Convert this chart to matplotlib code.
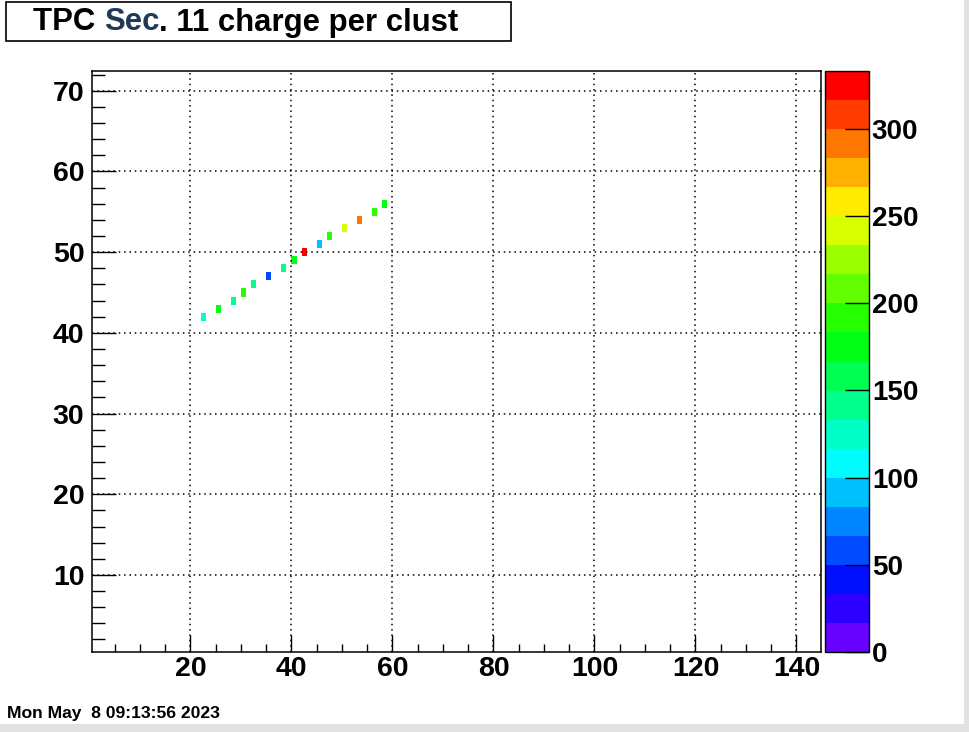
import numpy as np
import matplotlib
matplotlib.use("Agg")
import matplotlib.pyplot as plt
import colorsys
from matplotlib.colors import ListedColormap, BoundaryNorm
from matplotlib.ticker import MultipleLocator
import matplotlib.patches as mpatches

# bins filled in the 2D histogram (pad column, row) and their charge
pad_col = [22, 25, 28, 30, 32, 35, 38, 40, 42, 45, 47, 50, 53, 56, 58]
pad_row = [42, 43, 44, 45, 46, 47, 48, 49, 50, 51, 52, 53, 54, 55, 56]
charge = [125, 178, 145, 190, 145, 58, 145, 178, 330, 92, 190, 240, 295, 190, 180]

n_col = 145
n_row = 72
z_max = 333
n_levels = 20

plt.rcParams['font.family'] = ['Liberation Sans', 'DejaVu Sans']
plt.rcParams['font.weight'] = 'bold'

W, H = 969, 732
fig = plt.figure(figsize=(W / 100, H / 100), dpi=100)
fig.patch.set_facecolor('white')

def box(l, t, r, b):
    return [l / W, 1 - b / H, (r - l) / W, (b - t) / H]

# ROOT-like rainbow palette, 20 contour bands
band_cols = [colorsys.hsv_to_rgb(264 * (1 - k / (n_levels - 1)) / 360, 1, 1) for k in range(n_levels)]
cmap = ListedColormap(band_cols)
levels = np.linspace(0, z_max, n_levels + 1)
norm = BoundaryNorm(levels, cmap.N)

grid = np.full((n_row, n_col), np.nan)
for c, r, q in zip(pad_col, pad_row, charge):
    grid[r - 1, c] = q
grid = np.ma.masked_invalid(grid)

ax = fig.add_axes(box(92, 71, 820.7, 652))
x_edges = np.arange(n_col + 1)
y_edges = np.arange(n_row + 1) + 0.5
mesh = ax.pcolormesh(x_edges, y_edges, grid, cmap=cmap, norm=norm)

ax.set_xlim(0.5, 144.8)
ax.set_ylim(0.45, 72.45)
ax.xaxis.set_minor_locator(MultipleLocator(5))
ax.yaxis.set_minor_locator(MultipleLocator(2))
ax.set_xticks([20, 40, 60, 80, 100, 120, 140])
ax.set_yticks([10, 20, 30, 40, 50, 60, 70])
ax.tick_params(axis='x', which='major', direction='in', length=12, width=1, labelsize=20.5, pad=3)
ax.tick_params(axis='x', which='minor', direction='in', length=6, width=1)
ax.tick_params(axis='y', which='major', direction='in', length=17, width=1, labelsize=20.5, pad=5.5)
ax.tick_params(axis='y', which='minor', direction='in', length=9, width=1)
ax.grid(True, which='major', linestyle=(0, (1, 2.5)), color='black', linewidth=1.1)
ax.set_axisbelow(False)
for s in ax.spines.values():
    s.set_linewidth(1.1)

# palette axis
cax = fig.add_axes(box(825, 71, 869, 652))
cb = fig.colorbar(mesh, cax=cax, ticks=[0, 50, 100, 150, 200, 250, 300])
cb.outline.set_linewidth(1)
cax.tick_params(direction='in', length=17, width=1, labelsize=20, pad=2)
cax.minorticks_off()

# title box with the selection highlight on "Sec"
fs_title = 22.4
base = 1 - 30.5 / H
fig.patches.append(mpatches.Rectangle((6 / W, 1 - 41 / H), 505 / W, 39 / H,
                                      transform=fig.transFigure, fill=True,
                                      facecolor='white', edgecolor='black', linewidth=1.2))
t1 = fig.text(33 / W, base, "TPC ", fontsize=fs_title, fontweight='bold', va='baseline')
t2 = fig.text(0, base, "Sec", fontsize=fs_title, fontweight='bold', va='baseline', color='#203a55')
fig.canvas.draw()
r = fig.canvas.get_renderer()
bb1 = t1.get_window_extent(r)
t2.set_position((bb1.x1 / W, base))
bb2 = t2.get_window_extent(r)
fig.patches.append(mpatches.Rectangle((bb2.x0 / W, 1 - 32 / H), (bb2.x1 - bb2.x0) / W, 25.5 / H,
                                      transform=fig.transFigure, facecolor='#c6daf0',
                                      edgecolor='none', zorder=0.5))
fig.text(bb2.x1 / W, base, ". 11 charge per clust", fontsize=fs_title,
         fontweight='bold', va='baseline')

fig.text(7 / W, 1 - 718 / H, "Mon May  8 09:13:56 2023", fontsize=12.6, fontweight='bold',
         va='baseline')

# window shadow on the right and bottom edge
fig.patches.append(mpatches.Rectangle((964 / W, 0), 5 / W, 1, transform=fig.transFigure,
                                      facecolor='#e2e2e2', edgecolor='none'))
fig.patches.append(mpatches.Rectangle((0, 0), 1, 8 / H, transform=fig.transFigure,
                                      facecolor='#e2e2e2', edgecolor='none'))

fig.savefig("out.png", dpi=100)
